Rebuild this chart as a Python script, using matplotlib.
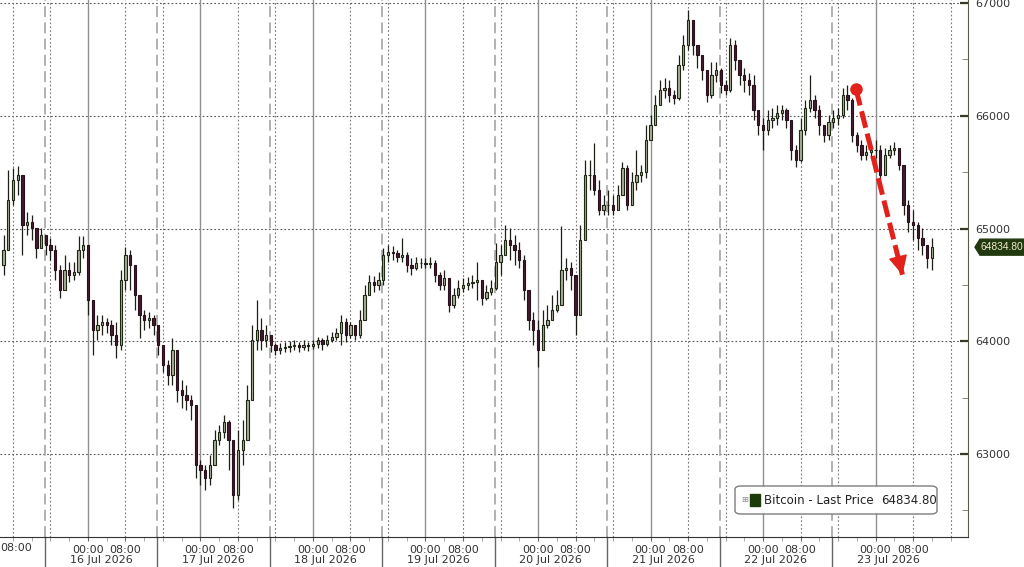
import numpy as np
import pandas as pd
import matplotlib
matplotlib.use("Agg")
import matplotlib.pyplot as plt
import matplotlib.dates as mdates
import matplotlib.transforms as mtrans
from matplotlib.patches import FancyBboxPatch, Polygon, Rectangle

# hourly Bitcoin candles, 15 Jul 2026 06:00 -> 23 Jul 2026 12:00
start = "2026-07-15 06:00"
first_open = 64677
close = [
    # 15 Jul
    64810, 65253, 65431, 65475, 65032, 65058, 65005, 64828, 64943, 64854, 64810, 64632,
    64455, 64632, 64588, 64615, 64810, 64854,
    # 16 Jul
    64366, 64100, 64145, 64171, 64145, 64056, 63967, 64544, 64765, 64677, 64411, 64233,
    64189, 64207, 64145, 63967, 63790, 63701, 63923, 63568, 63524, 63479, 63435, 62903,
    # 17 Jul
    62859, 62788, 62903, 63125, 63196, 63284, 63125, 62637, 63036, 63125, 63479, 64012,
    64100, 64012, 64056, 63967, 63923, 63941, 63949, 63958, 63967, 63949, 63967, 63958,
    # 18 Jul
    63976, 64012, 63976, 64012, 64038, 64074, 64171, 64056, 64145, 64056, 64189, 64411,
    64526, 64499, 64544, 64765, 64792, 64783, 64748, 64765, 64677, 64650, 64694, 64694,
    # 19 Jul
    64686, 64694, 64588, 64499, 64561, 64322, 64411, 64473, 64499, 64517, 64526, 64544,
    64384, 64437, 64473, 64703, 64765, 64898, 64854, 64810, 64721, 64455, 64189, 64100,
    # 20 Jul
    63923, 64145, 64189, 64278, 64322, 64632, 64650, 64588, 64233, 64898, 65475, 65475,
    65342, 65165, 65209, 65209, 65165, 65298, 65537, 65209, 65413, 65475, 65502, 65785,
    # 21 Jul
    65918, 66096, 66229, 66247, 66184, 66158, 66450, 66628, 66850, 66628, 66539, 66406,
    66184, 66362, 66406, 66273, 66229, 66628, 66495, 66362, 66318, 66273, 66051, 65918,
    # 22 Jul
    65874, 65963, 65980, 66025, 66051, 65963, 65697, 65608, 65874, 66069, 66140, 66051,
    65918, 65830, 65945, 65980, 66007, 66184, 66140, 65830, 65741, 65652, 65679, 65697,
    # 23 Jul
    65697, 65475, 65652, 65697, 65714, 65564, 65209, 65058, 65032, 64916, 64854, 64739,
    64834.8,
]
high = [
    64943, 65519, 65537, 65555, 65342, 65147, 65120, 64943, 65005, 64943, 64916, 64854,
    64677, 64765, 64703, 64703, 64934, 64934,
    64810, 64278, 64233, 64233, 64207, 64189, 64171, 64632, 64836, 64810, 64499, 64322,
    64278, 64260, 64233, 64118, 63967, 63834, 64029, 63701, 63657, 63612, 63524, 63435,
    62947, 62903, 62992, 63213, 63258, 63346, 63302, 63125, 63213, 63302, 63612, 64145,
    64366, 64207, 64145, 64056, 63985, 63985, 63994, 64003, 64012, 63994, 64012, 63994,
    64012, 64038, 64029, 64056, 64083, 64118, 64233, 64207, 64171, 64145, 64278, 64499,
    64588, 64579, 64615, 64828, 64854, 64845, 64810, 64916, 64792, 64739, 64748, 64739,
    64739, 64748, 64721, 64615, 64632, 64544, 64473, 64544, 64561, 64570, 64588, 64703,
    64499, 64499, 64544, 64872, 64854, 65032, 65005, 64943, 64881, 64765, 64411, 64260,
    64189, 64278, 64322, 64411, 64455, 65023, 64739, 64703, 64499, 65032, 65608, 65608,
    65759, 65431, 65298, 65342, 65298, 65386, 65590, 65564, 65502, 65697, 65564, 65918,
    66007, 66184, 66318, 66335, 66318, 66229, 66539, 66717, 66938, 66805, 66628, 66539,
    66406, 66477, 66477, 66424, 66318, 66690, 66672, 66477, 66424, 66380, 66362, 66034,
    65980, 66051, 66069, 66096, 66096, 66069, 65918, 65741, 65980, 66140, 66362, 66184,
    66096, 65918, 66007, 66051, 66069, 66247, 66273, 66158, 65856, 65785, 65741, 65741,
    65785, 65741, 65714, 65741, 65768, 65697, 65564, 65253, 65165, 65058, 65005, 64854,
    64916,
]
low = [
    64588, 64810, 65209, 65298, 64765, 64943, 64898, 64739, 64828, 64765, 64721, 64544,
    64384, 64499, 64526, 64544, 64588, 64739,
    64233, 63878, 64012, 64056, 64074, 63967, 63852, 63923, 64455, 64455, 64278, 64029,
    64100, 64118, 64056, 63878, 63728, 63612, 63612, 63462, 63408, 63391, 63302, 62788,
    62726, 62681, 62726, 62903, 63080, 63142, 62859, 62522, 62593, 62903, 63302, 63568,
    63923, 63923, 63949, 63905, 63878, 63887, 63905, 63905, 63923, 63905, 63923, 63914,
    63932, 63941, 63923, 63958, 63994, 64012, 63967, 63994, 64029, 64012, 64029, 64189,
    64411, 64437, 64455, 64499, 64703, 64721, 64703, 64703, 64615, 64588, 64632, 64650,
    64650, 64650, 64526, 64455, 64455, 64260, 64295, 64384, 64437, 64455, 64473, 64366,
    64322, 64366, 64411, 64455, 64588, 64765, 64721, 64677, 64650, 64366, 64100, 63967,
    63772, 63967, 64118, 64207, 64260, 64322, 64544, 64455, 64056, 64260, 64898, 65342,
    65298, 65120, 65120, 65120, 65120, 65165, 65298, 65165, 65253, 65342, 65413, 65448,
    65785, 65918, 66096, 66158, 66122, 66105, 66140, 66406, 66584, 66539, 66424, 66318,
    66122, 66158, 66300, 66202, 66184, 66211, 66406, 66273, 66211, 66184, 65963, 65830,
    65697, 65830, 65892, 65918, 65963, 65892, 65608, 65546, 65590, 65830, 66034, 65980,
    65830, 65768, 65785, 65892, 65918, 65980, 66051, 65768, 65679, 65608, 65608, 65626,
    65626, 65431, 65475, 65626, 65652, 65519, 65120, 64969, 64898, 64810, 64765, 64650,
    64632,
]
days = ["16 Jul 2026", "17 Jul 2026", "18 Jul 2026", "19 Jul 2026",
        "20 Jul 2026", "21 Jul 2026", "22 Jul 2026", "23 Jul 2026"]
y_ticks = [63000, 64000, 65000, 66000, 67000]
last_price = 64834.80
series_name = "Bitcoin - Last Price"
# red annotation arrow (time, price)
arrow_from = ("2026-07-22 19:50", 66238)
arrow_to = ("2026-07-23 05:45", 64590)

times = pd.date_range(start, periods=len(close), freq="h")
t = mdates.date2num(times.to_pydatetime())
c = np.array(close, dtype=float)
o = np.concatenate([[first_open], c[:-1]])
h = np.maximum(np.array(high, dtype=float), np.maximum(o, c))
l = np.minimum(np.array(low, dtype=float), np.minimum(o, c))

fig = plt.figure(figsize=(10.24, 5.67), dpi=100)
ax = fig.add_axes([0, 1 - 537 / 567, 968 / 1024, 537 / 567])

t_mid = mdates.date2num(pd.Timestamp("2026-07-16"))
ax.set_xlim(t_mid - 18.77 / 24, t_mid + 187.73 / 24)
ax.set_ylim(62264, 67027)

# grid lines
for yv in y_ticks:
    ax.axhline(yv, color="#555555", lw=0.8, ls=(0, (1.5, 2)), zorder=0)
midnights = pd.date_range("2026-07-16", "2026-07-23", freq="D")
for d in midnights:
    ax.axvline(d, color="#8f8f8f", lw=1.0, zorder=0)
for d in pd.date_range("2026-07-15 08:00", "2026-07-23 16:00", freq="8h"):
    if d.hour != 0:
        ax.axvline(d, color="#777777", lw=0.8, ls=(0, (1.5, 2)), zorder=0)
seps = pd.date_range("2026-07-15 14:45", "2026-07-22 14:45", freq="D")
for d in seps:
    ax.axvline(d, color="#ababab", lw=1.3, ls=(0, (6, 3)), zorder=0)
    ax.plot([d, d], [0, -0.06], transform=ax.get_xaxis_transform(),
            color="#666666", lw=1.0, clip_on=False)

# candles
w = 0.5 / 24
up = c >= o
ax.vlines(t, l, h, color="#1e1e16", lw=0.9, zorder=2)
ax.bar(t[up], (c - o)[up], bottom=o[up], width=w, color="#abad9b",
       edgecolor="#1d2812", lw=0.8, zorder=3)
ax.bar(t[~up], (o - c)[~up], bottom=c[~up], width=w, color="#3f1b2d",
       edgecolor="#2a101c", lw=0.8, zorder=3)

# x axis labels
xt = []
xl = []
for d in midnights:
    xt += [d, d + pd.Timedelta(hours=8)]
    xl += ["00:00", "08:00"]
ax.set_xticks(xt, xl)
ax.xaxis.set_minor_locator(mdates.HourLocator(byhour=[0, 4, 8, 12, 16, 20]))
ax.tick_params(axis="x", which="major", length=3, color="#666666", pad=3,
               labelsize=8, labelcolor="#333333")
ax.tick_params(axis="x", which="minor", length=3, color="#999999")
xtr = ax.get_xaxis_transform()
ax.text(ax.get_xlim()[0] + 0.1 / 24, -0.0105, "08:00", transform=xtr,
        ha="left", va="top", fontsize=8, color="#333333")
for d, lab in zip(midnights, days):
    ax.text(d + pd.Timedelta(hours=2.75), -0.034, lab, transform=xtr,
            ha="center", va="top", fontsize=8, color="#333333")

# y axis on right
ax.yaxis.tick_right()
ax.set_yticks(y_ticks)
ax.set_yticklabels([str(v) for v in y_ticks])
ax.set_yticks(np.arange(62500, 67001, 1000), minor=True)
ax.tick_params(axis="y", which="major", direction="in", length=6, width=1.6,
               color="#3a3a2a", pad=5, labelsize=8, labelcolor="#333333")
ax.tick_params(axis="y", which="minor", direction="in", length=4,
               color="#777766")
for s in ["top", "left"]:
    ax.spines[s].set_visible(False)
ax.spines["right"].set_color("#5a5a48")
ax.spines["bottom"].set_color("#333333")

# red arrow
a0 = (mdates.date2num(pd.Timestamp(arrow_from[0])), arrow_from[1])
a1 = (mdates.date2num(pd.Timestamp(arrow_to[0])), arrow_to[1])
red = "#e3201b"
ax.plot([a0[0], a1[0]], [a0[1], a1[1]], color=red, lw=3.6,
        ls=(0, (3.4, 1.2)), solid_capstyle="butt", zorder=5)
ax.plot([a0[0]], [a0[1]], "o", color=red, ms=8, zorder=6)
ax.annotate("", xy=a1, xytext=(a1[0] - (a1[0] - a0[0]) * 0.08,
                                a1[1] - (a1[1] - a0[1]) * 0.08),
            arrowprops=dict(arrowstyle="-|>", mutation_scale=30, color=red,
                            lw=1, shrinkA=0, shrinkB=0), zorder=6)

# last price tag
tr = mtrans.blended_transform_factory(fig.transFigure, ax.transData)
dy = 8 * 8.869
tag = Polygon([(975 / 1024, last_price), (980 / 1024, last_price + dy),
               (1.01, last_price + dy), (1.01, last_price - dy),
               (980 / 1024, last_price - dy)], closed=True, transform=tr,
              facecolor="#22380f", edgecolor="#22380f", clip_on=False)
fig.patches.append(tag)
fig.text(980.5 / 1024, last_price, f"{last_price:.2f}", transform=tr,
         ha="left", va="center", fontsize=7.4, family="Liberation Sans",
         color="#efeccb")

# legend box
fig.patches.append(FancyBboxPatch((735 / 1024, 1 - 514 / 567), 202 / 1024, 28 / 567,
                                  boxstyle="round,pad=0,rounding_size=0.006",
                                  transform=fig.transFigure, facecolor="white",
                                  edgecolor="#7d7d7d", lw=1.0))
fig.text(745 / 1024, 1 - 500 / 567, "\u229e", ha="center", va="center",
         fontsize=6, color="#8a8a8a")
fig.patches.append(Rectangle((750 / 1024, 1 - 506 / 567), 10 / 1024, 12 / 567,
                             transform=fig.transFigure, facecolor="#1e3b0c",
                             edgecolor="#1e3b0c"))
fig.text(764 / 1024, 1 - 500 / 567, series_name, ha="left", va="center",
         fontsize=8.5, color="#222222")
fig.text(881 / 1024, 1 - 500 / 567, f"{last_price:.2f}", ha="left", va="center",
         fontsize=8.5, color="#222222")

fig.savefig("out.png", dpi=100, facecolor="white")
